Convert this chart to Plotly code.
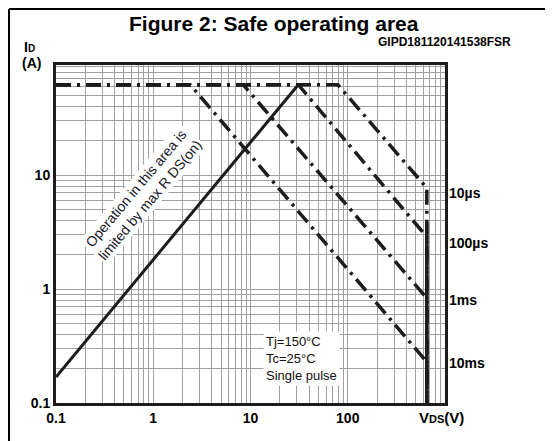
import plotly.graph_objects as go

# ---- data ----
ID_MAX = 62.0
VDS_MAX = 650.0

curve_labels = ["10µs", "100µs", "1ms", "10ms"]
# VDS at which each pulse curve leaves the ID_MAX plateau
curve_vds_start = [79.0, 31.0, 8.4, 2.4]
# ID at which each curve reaches VDS_MAX
curve_id_end = [7.7, 2.86, 0.83, 0.229]

rds_vds = [0.1, 31.0]
rds_id = [0.169, 62.0]

vmax_line_id = [0.1, 3.8]

x_major = [0.1, 1, 10, 100]
x_major_text = ["0.1", "1", "10", "100"]
y_major = [0.1, 1, 10]
y_major_text = ["0.1", "1", "10"]

# ---- geometry helpers (screen pixel -> figure paper coords) ----
OFF = 8  # page body margin
W, H = 553 - OFF, 441 - OFF
L, R, T, B = 56 - OFF, 445 - OFF, 65 - OFF, 403 - OFF


def px(x):
    return (x - OFF - L) / (R - L)


def py(y):
    return (B - (y - OFF)) / (B - T)


fig = go.Figure()

line_col = "#1c1c1c"
dash = "15px,6px,3px,6px"
for lab, vs, ie in zip(curve_labels, curve_vds_start, curve_id_end):
    fig.add_trace(go.Scatter(
        x=[0.1, vs, VDS_MAX, VDS_MAX], y=[ID_MAX, ID_MAX, ie, 0.1],
        mode="lines", line=dict(color=line_col, width=3.5, dash=dash),
        showlegend=False, hoverinfo="skip"))

fig.add_trace(go.Scatter(x=rds_vds, y=rds_id, mode="lines",
                         line=dict(color=line_col, width=3), showlegend=False))
fig.add_trace(go.Scatter(x=[VDS_MAX, VDS_MAX], y=vmax_line_id, mode="lines",
                         line=dict(color=line_col, width=3.5), showlegend=False))

# ticks / grid
xt, xtt = [], []
for d, lab in zip(x_major, x_major_text):
    for k in range(1, 10):
        xt.append(d * k)
        xtt.append(lab if k == 1 else "")
xt.append(1000)
xtt.append("")
yt, ytt = [], []
for d, lab in zip(y_major, y_major_text):
    for k in range(1, 10):
        yt.append(d * k)
        ytt.append(lab if k == 1 else "")

font_fam = "Liberation Sans, Arial, sans-serif"
grid_col = "#a0a0a0"

fig.update_xaxes(type="log", range=[-1, 3], tickvals=xt, ticktext=xtt,
                 showgrid=True, gridcolor=grid_col, gridwidth=1.3,
                 showline=True, linecolor="#1c1c1c", linewidth=3, mirror=True,
                 ticks="", zeroline=False,
                 tickfont=dict(family=font_fam, size=14, color="black", weight="bold"))
fig.update_yaxes(type="log", range=[-1, 1.965], tickvals=yt, ticktext=ytt,
                 showgrid=True, gridcolor=grid_col, gridwidth=1.3,
                 showline=True, linecolor="#1c1c1c", linewidth=3, mirror=True,
                 ticks="", zeroline=False,
                 tickfont=dict(family=font_fam, size=14, color="black", weight="bold"))

ann = []
# title and code
ann.append(dict(text="<b>Figure 2: Safe operating area</b>", xref="paper", yref="paper",
                x=px(274), y=py(23), xanchor="center", yanchor="middle", showarrow=False,
                font=dict(family=font_fam, size=21, color="black")))
ann.append(dict(text="<b>GIPD181120141538FSR</b>", xref="paper", yref="paper",
                x=px(513), y=py(42), xanchor="right", yanchor="middle", showarrow=False,
                font=dict(family=font_fam, size=12, color="black")))
# axis titles
ann.append(dict(text="<b>I<span style='font-size:10px'>D</span></b>", xref="paper", yref="paper",
                x=px(22), y=py(47), xanchor="left", yanchor="middle", showarrow=False,
                font=dict(family=font_fam, size=14, color="black")))
ann.append(dict(text="<b>(A)</b>", xref="paper", yref="paper",
                x=px(20), y=py(63), xanchor="left", yanchor="middle", showarrow=False,
                font=dict(family=font_fam, size=14, color="black")))
ann.append(dict(text="<b>V<span style='font-size:11px'>DS</span>(V)</b>", xref="paper", yref="paper",
                x=px(441), y=py(417), xanchor="center", yanchor="middle", showarrow=False,
                font=dict(family=font_fam, size=15, color="black")))
# curve labels on the right
label_py = [193, 243, 300, 363]
for lab, yy in zip(curve_labels, label_py):
    ann.append(dict(text="<b>%s</b>" % lab, xref="paper", yref="paper",
                    x=px(447), y=py(yy), xanchor="left", yanchor="middle", showarrow=False,
                    font=dict(family=font_fam, size=14, color="black")))
# conditions box
ann.append(dict(text="Tj=150°C<br>Tc=25°C<br>Single pulse", xref="paper", yref="paper",
                x=px(263), y=py(358), xanchor="left", yanchor="middle", align="left",
                showarrow=False, bgcolor="white", borderpad=2,
                font=dict(family=font_fam, size=13, color="#111")))
# RDS(on) note
ann.append(dict(text="Operation in this area is<br>limited by max R DS(on)", xref="paper", yref="paper",
                x=px(143), y=py(194), xanchor="center", yanchor="middle", align="center",
                textangle=-50, showarrow=False, bgcolor="white", borderpad=1,
                font=dict(family=font_fam, size=14, color="#1a1a2a")))

shapes = [
    dict(type="line", xref="paper", yref="paper", x0=px(9), x1=px(9), y0=py(9), y1=py(441),
         line=dict(color="black", width=2)),
    dict(type="line", xref="paper", yref="paper", x0=px(9), x1=px(553), y0=py(9), y1=py(9),
         line=dict(color="black", width=2)),
]

fig.update_layout(width=W, height=H, margin=dict(l=L, r=W - R, t=T, b=H - B),
                  paper_bgcolor="white", plot_bgcolor="white",
                  annotations=ann, shapes=shapes, showlegend=False)

fig.write_html("out.html")
